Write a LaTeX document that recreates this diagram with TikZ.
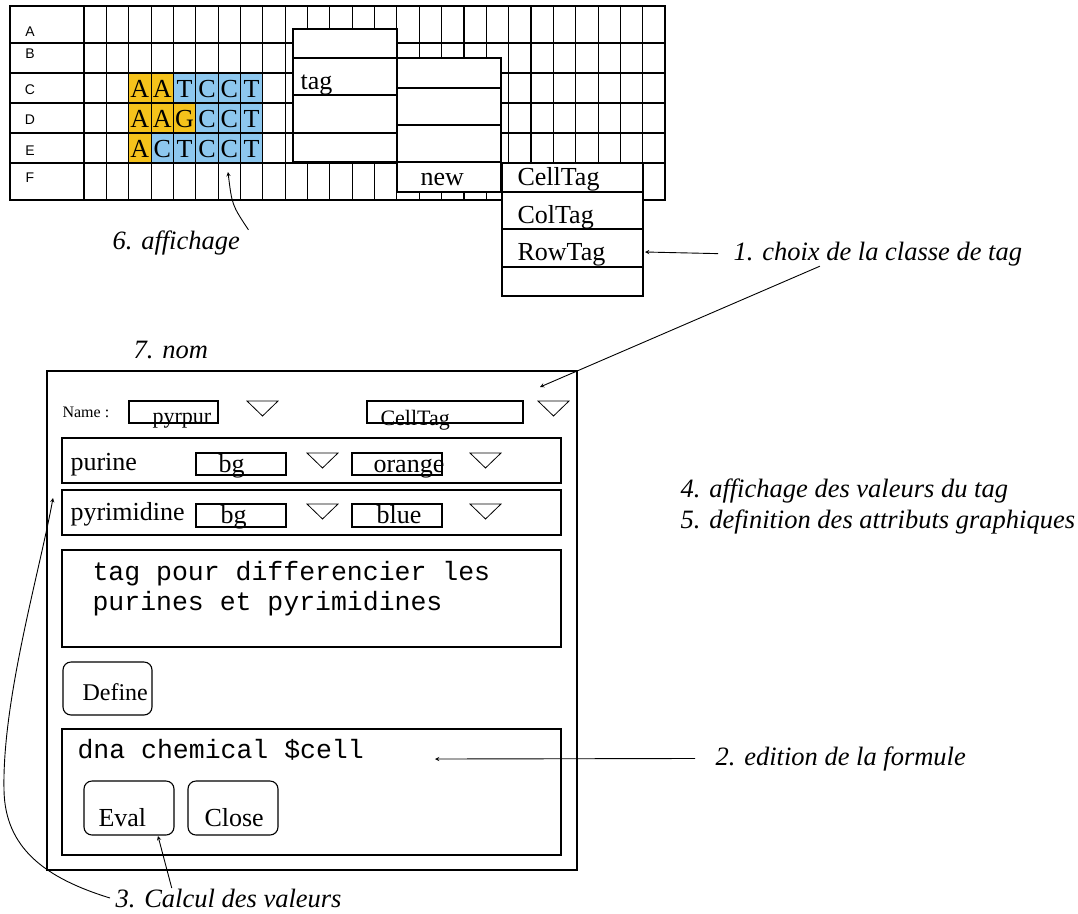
\documentclass[tikz,border=0pt]{standalone}
\usepackage{fontspec}
\setmainfont{Liberation Serif}
\setsansfont{Liberation Sans}
\setmonofont{Liberation Mono}
\usetikzlibrary{arrows, arrows.meta, calc}

\definecolor{purinecol}{HTML}{F5C21B}
\definecolor{pyrimcol}{HTML}{8DC7EE}

\begin{document}
\begin{tikzpicture}[x=1pt, y=-1pt, line width=1.1pt, >=stealth,
  txt/.style={inner sep=0pt, anchor=base west, font=\fontsize{26}{30}\selectfont},
  smalltxt/.style={inner sep=0pt, anchor=base west, font=\fontsize{22}{26}\selectfont},
  note/.style={inner sep=0pt, anchor=base west, font=\fontsize{26.5}{30}\selectfont\itshape},
  mono/.style={inner sep=0pt, anchor=base west, font=\ttfamily\fontsize{26.5}{30}\selectfont},
  rowlbl/.style={inner sep=0pt, font=\sffamily\fontsize{14}{16}\selectfont},
  popup/.style={draw, fill=white},
  button/.style={draw, rounded corners=8pt},
  pointer/.style={->, line width=0.9pt}]

\useasboundingbox (0, 0) rectangle (1078, 913);

\fill [purinecol] (128.7, 73) rectangle (173.4, 103);
\fill [pyrimcol] (173.4, 73) rectangle (262.8, 103);
\fill [purinecol] (128.7, 103) rectangle (195.75, 133);
\fill [pyrimcol] (195.75, 103) rectangle (262.8, 133);
\fill [purinecol] (128.7, 133) rectangle (151.05, 163);
\fill [pyrimcol] (151.05, 133) rectangle (262.8, 163);

\draw (10, 6) rectangle (665, 200);
\foreach \y in {43, 73, 103, 133, 163} \draw (10, \y) -- (665, \y);
\foreach \k in {0, ..., 25} \draw ({84 + 22.35*\k}, 6) -- ({84 + 22.35*\k}, 200);

\foreach \l/\y in {A/32, B/54, C/90, D/120, E/151, F/178}
  \node [rowlbl] (row\l) at (30, \y) {\l};

\foreach \y/\s [count=\r] in {97/{A,A,T,C,C,T}, 127/{A,A,G,C,C,T}, 157/{A,C,T,C,C,T}}
  \foreach \l [count=\i] in \s
    \node [txt, anchor=base] (seq\r\i) at ({84 + 22.35*(\i + 1.5)}, \y) {\l};

\draw [popup] (293, 29) rectangle (397, 162);
\draw (293, 58) -- (397, 58) (293, 95) -- (397, 95) (293, 133) -- (397, 133);
\node [txt] (tagcell) at (300, 89) {tag};

\draw [popup] (397, 58) rectangle (501, 192);
\draw (397, 88) -- (501, 88) (397, 125) -- (501, 125) (397, 162) -- (501, 162);
\node [txt] (newcell) at (420, 185) {new};

\draw [popup] (502, 163) rectangle (643, 296);
\draw (502, 192) -- (643, 192) (502, 229) -- (643, 229) (502, 267) -- (643, 267);
\node [txt] (celltag) at (517, 185) {CellTag};
\node [txt] (coltag) at (517, 223) {ColTag};
\node [txt] (rowtag) at (517, 260) {RowTag};
\coordinate (rowtagR) at (645, 252);

\node [note] (affichage) at (112, 249) {6. affichage};
\coordinate (afftip) at (228, 172);
\draw [pointer] ([xshift=8pt]affichage.north east) .. controls (232, 205) .. (afftip);

\node [note] (choix) at (733, 260) {1. choix de la classe de tag};
\draw [pointer] ([xshift=-15pt]choix.west) -- (rowtagR);
\coordinate (classtip) at (540, 387);
\draw [pointer] ($(choix.south west)!0.3!(choix.south east)$) -- (classtip);

\node [note] (nom) at (133, 358) {7. nom};

\draw (47, 371) rectangle (577, 870);
\node [inner sep=0pt, anchor=base west, font=\fontsize{16}{18}\selectfont] (namelbl) at (62, 417) {Name :};
\draw (129, 401) rectangle (218, 423);
\node [smalltxt] (nameval) at (152, 423) {pyrpur};
\draw (367, 401) rectangle (523, 423);
\node [smalltxt] (classval) at (380, 425) {CellTag};

\foreach \x/\y in {247/401, 538/401, 307/453, 470/453, 307/504, 470/504}
  \draw [line width=0.8pt] (\x, \y) -- ++(31, 0) -- ++(-15.5, 15) -- cycle;

\draw (62, 438) rectangle (561, 483);
\node [txt] (purine) at (70, 470) {purine};
\draw (196, 453) rectangle (286, 475);
\node [txt] (purbg) at (218, 472) {bg};
\draw (352, 453) rectangle (442, 475);
\node [txt] (purcol) at (373, 472) {orange};

\draw (62, 490) rectangle (561, 535);
\node [txt] (pyrimidine) at (70, 520) {pyrimidine};
\draw (196, 504) rectangle (286, 527);
\node [txt] (pyrbg) at (220, 523) {bg};
\draw (352, 504) rectangle (442, 527);
\node [txt] (pyrcol) at (376, 523) {blue};

\draw (62, 550) rectangle (561, 647);
\node [mono] (comment1) at (92, 580) {tag pour differencier les};
\node [mono] (comment2) at (92, 610) {purines et pyrimidines};

\draw [button] (63, 662) rectangle (152, 715);
\node [inner sep=0pt, anchor=base west, font=\fontsize{24}{28}\selectfont] (define) at (82, 700) {Define};

\draw (62, 729) rectangle (561, 855);
\node [mono] (formula) at (77, 758) {dna chemical \$cell};
\draw [button] (84, 781) rectangle (174, 835);
\node [txt] (eval) at (98, 826) {Eval};
\draw [button] (188, 781) rectangle (278, 835);
\node [txt] (close) at (204, 826) {Close};

\node [note] (valeurs) at (680, 497) {4. affichage des valeurs du tag};
\node [note] (attributs) at (680, 528) {5. definition des attributs graphiques};

\node [note] (edition) at (715, 765) {2. edition de la formule};
\coordinate (formtip) at (435, 759);
\draw [pointer] ([xshift=-20pt]edition.west) -- (formtip);

\node [note] (calcul) at (115, 907) {3. Calcul des valeurs};
\coordinate (evaltip) at (158, 836);
\draw [pointer] ($(calcul.north west)!0.25!(calcul.north east)$) -- (evaltip);
\coordinate (rowtip) at (53, 498);
\draw [pointer] ([xshift=-5pt]calcul.west) .. controls (45, 878) and (5, 848) .. (4, 790) .. controls (2, 700) and (40, 570) .. (rowtip);

\end{tikzpicture}
\end{document}
